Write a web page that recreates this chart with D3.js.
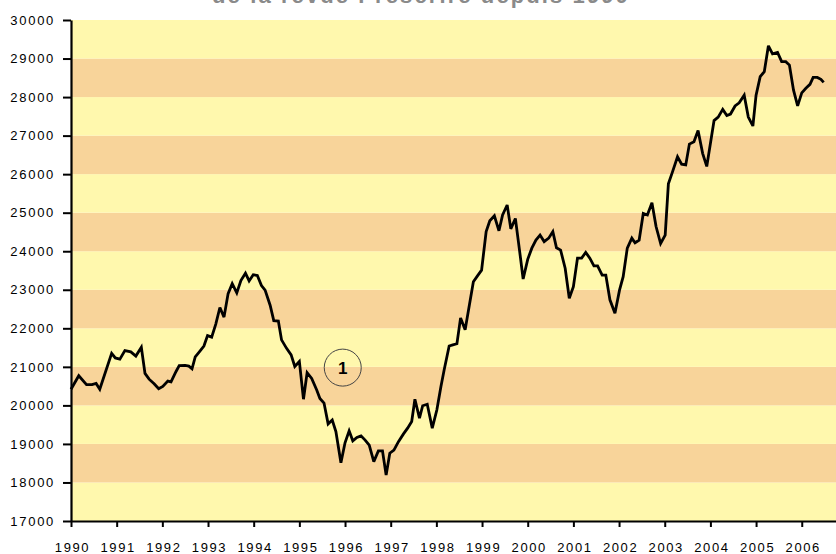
<!DOCTYPE html>
<html>
<head>
<meta charset="utf-8">
<script src="https://cdn.jsdelivr.net/npm/d3@7"></script>
<style>
body { margin: 0; background: #fff; }
text { font-family: "Liberation Sans", Arial, Helvetica, sans-serif; }
</style>
</head>
<body>
<div id="chart-area"></div>
<script>
const title = "de la revue Prescrire depuis 1990";

// dates as decimal years
const dates = [
    1990.00, 1990.17, 1990.34, 1990.46, 1990.55, 1990.63, 1990.89, 1990.97, 1991.07, 1991.18,
    1991.31, 1991.42, 1991.54, 1991.62, 1991.71, 1991.82, 1991.92, 1992.01, 1992.12, 1992.19,
    1992.30, 1992.37, 1992.50, 1992.58, 1992.65, 1992.72, 1992.81, 1992.91, 1992.99, 1993.08,
    1993.17, 1993.26, 1993.35, 1993.44, 1993.53, 1993.63, 1993.72, 1993.82, 1993.90, 1993.99,
    1994.08, 1994.17, 1994.25, 1994.36, 1994.44, 1994.54, 1994.61, 1994.72, 1994.82, 1994.90,
    1995.00, 1995.09, 1995.17, 1995.27, 1995.38, 1995.45, 1995.54, 1995.63, 1995.72, 1995.80,
    1995.91, 1996.00, 1996.09, 1996.17, 1996.26, 1996.35, 1996.44, 1996.53, 1996.63, 1996.73,
    1996.82, 1996.90, 1996.98, 1997.07, 1997.17, 1997.28, 1997.37, 1997.46, 1997.53, 1997.63,
    1997.70, 1997.80, 1997.91, 1998.01, 1998.10, 1998.17, 1998.28, 1998.36, 1998.45, 1998.53,
    1998.63, 1998.81, 1998.90, 1998.99, 1999.09, 1999.17, 1999.27, 1999.37, 1999.45, 1999.55,
    1999.63, 1999.73, 1999.82, 1999.90, 2000.00, 2000.09, 2000.18, 2000.27, 2000.36, 2000.46,
    2000.55, 2000.63, 2000.72, 2000.82, 2000.91, 2001.00, 2001.09, 2001.18, 2001.27, 2001.36,
    2001.45, 2001.53, 2001.63, 2001.71, 2001.80, 2001.91, 2002.01, 2002.09, 2002.18, 2002.28,
    2002.35, 2002.44, 2002.53, 2002.62, 2002.72, 2002.81, 2002.91, 2003.01, 2003.08, 2003.17,
    2003.28, 2003.37, 2003.46, 2003.54, 2003.64, 2003.73, 2003.83, 2003.92, 2004.08, 2004.17,
    2004.27, 2004.36, 2004.44, 2004.54, 2004.63, 2004.74, 2004.83, 2004.93, 2005.00, 2005.09,
    2005.18, 2005.27, 2005.36, 2005.47, 2005.56, 2005.65, 2005.73, 2005.82, 2005.91, 2006.00,
    2006.09, 2006.18, 2006.25, 2006.34, 2006.42, 2006.48
];

const values = [
    20420, 20770, 20540, 20540, 20570, 20420, 21350, 21230, 21200, 21420,
    21390, 21280, 21510, 20830, 20680, 20560, 20430, 20490, 20630, 20610,
    20880, 21030, 21040, 21020, 20950, 21260, 21390, 21540, 21810, 21770,
    22110, 22540, 22290, 22900, 23160, 22920, 23240, 23430, 23230, 23390,
    23370, 23110, 22990, 22600, 22200, 22190, 21700, 21480, 21310, 21010,
    21140, 20160, 20850, 20700, 20400, 20180, 20060, 19520, 19620, 19320,
    18510, 19030, 19340, 19080, 19170, 19210, 19100, 18970, 18540, 18820,
    18820, 18190, 18760, 18840, 19060, 19260, 19410, 19580, 20160, 19670,
    19990, 20030, 19410, 19880, 20490, 20920, 21540, 21570, 21600, 22270,
    21960, 23210, 23360, 23510, 24510, 24790, 24920, 24530, 24940, 25200,
    24580, 24850, 24030, 23280, 23790, 24080, 24290, 24420, 24250, 24340,
    24510, 24090, 24030, 23560, 22780, 23080, 23820, 23820, 23970, 23820,
    23620, 23620, 23380, 23380, 22740, 22390, 22990, 23340, 24080, 24340,
    24220, 24290, 24980, 24940, 25260, 24640, 24200, 24420, 25750, 26060,
    26450, 26260, 26240, 26780, 26840, 27130, 26540, 26200, 27390, 27480,
    27680, 27520, 27560, 27770, 27850, 28050, 27480, 27250, 28050, 28530,
    28660, 29330, 29120, 29160, 28920, 28920, 28830, 28180, 27770, 28110,
    28230, 28330, 28510, 28510, 28460, 28380
];

const yTicks = [17000, 18000, 19000, 20000, 21000, 22000, 23000, 24000, 25000, 26000, 27000, 28000, 29000, 30000];
const xTicks = [1990, 1991, 1992, 1993, 1994, 1995, 1996, 1997, 1998, 1999, 2000, 2001, 2002, 2003, 2004, 2005, 2006];
const xEnd = 2006.75;

const noteLabel = "1";
const noteDate = 1995.95;
const noteValue = 20980;

const margin = {left: 71, right: 0, top: 20, bottom: 33};
const chartSize = {width: 836, height: 554};
const width = chartSize.width - margin.left - margin.right;
const height = chartSize.height - margin.top - margin.bottom;

const bandColors = ["#fff8ad", "#f8d49a"];

const drawChart = () => {
    const x = d3.scaleLinear()
        .domain([xTicks[0], xEnd])
        .range([0, width]);

    const y = d3.scaleLinear()
        .domain([yTicks[0], yTicks[yTicks.length - 1]])
        .range([height, 0]);

    const svg = d3.select("#chart-area")
        .append("svg")
        .attr("width", chartSize.width)
        .attr("height", chartSize.height);

    // title sits mostly above the picture, only its lower part shows
    svg.append("text")
        .attr("x", 421)
        .attr("y", 3)
        .attr("text-anchor", "middle")
        .attr("font-size", 22)
        .attr("font-weight", "bold")
        .attr("letter-spacing", 2.1)
        .attr("fill", "#8a8a8a")
        .text(title);

    const g = svg.append("g").attr("transform", `translate(${margin.left}, ${margin.top})`);

    // alternating background bands
    const bands = d3.pairs(yTicks);
    g.selectAll("rect.band").data(bands).enter()
        .append("rect")
        .attr("class", "band")
        .attr("x", 0)
        .attr("width", width)
        .attr("y", d => y(d[1]))
        .attr("height", d => y(d[0]) - y(d[1]))
        .attr("fill", (d, i) => bandColors[i % 2]);

    const line = d3.line()
        .x((d, i) => x(dates[i]))
        .y(d => y(d));

    g.append("path")
        .datum(values)
        .attr("d", line)
        .attr("fill", "none")
        .attr("stroke", "#000")
        .attr("stroke-width", 2.8)
        .attr("stroke-linejoin", "miter")
        .attr("stroke-miterlimit", 3);

    // note marker
    g.append("circle")
        .attr("cx", x(noteDate))
        .attr("cy", y(noteValue))
        .attr("r", 18.5)
        .attr("fill", "none")
        .attr("stroke", "#444")
        .attr("stroke-width", 1);

    g.append("text")
        .attr("x", x(noteDate))
        .attr("y", y(noteValue))
        .attr("dy", "0.36em")
        .attr("text-anchor", "middle")
        .attr("font-size", 17)
        .attr("font-weight", "bold")
        .text(noteLabel);

    const yAxis = d3.axisLeft(y)
        .tickValues(yTicks)
        .tickFormat(d3.format("d"))
        .tickSize(8)
        .tickSizeOuter(0);

    const xAxis = d3.axisBottom(x)
        .tickValues(xTicks)
        .tickFormat(d3.format("d"))
        .tickSize(6)
        .tickSizeOuter(0);

    const yG = g.append("g").attr("class", "y-axis").call(yAxis);
    const xG = g.append("g").attr("class", "x-axis")
        .attr("transform", `translate(0, ${height})`)
        .call(xAxis);

    g.selectAll(".domain").attr("stroke-width", 2.2).attr("stroke", "#000");
    g.selectAll(".tick line").attr("stroke-width", 2).attr("stroke", "#000");

    yG.selectAll("text")
        .attr("x", -16)
        .attr("font-size", 13)
        .attr("letter-spacing", 1.7)
        .attr("fill", "#000");

    xG.selectAll("text")
        .attr("y", 31)
        .attr("dy", 0)
        .attr("x", 1)
        .attr("font-size", 13)
        .attr("letter-spacing", 1.6)
        .attr("fill", "#000");

    svg.selectAll(".y-axis, .x-axis").attr("font-family", null);
};

window.onload = drawChart;
</script>
</body>
</html>
